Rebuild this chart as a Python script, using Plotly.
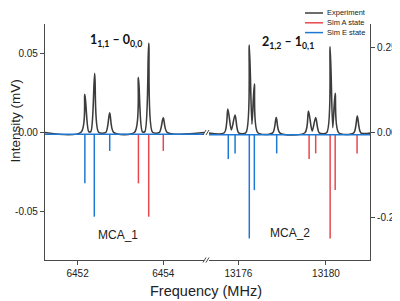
import plotly.graph_objects as go

# window 1: 1(1,1) - 0(0,0), MHz / mV (left axis)
exp1_freq = [6451.2, 6452.08, 6452.17, 6452.26, 6452.31, 6452.40, 6452.49,
             6452.66, 6452.75, 6452.84, 6453.33, 6453.42, 6453.51,
             6453.57, 6453.66, 6453.75, 6453.91, 6454.00, 6454.09, 6455.0]
exp1_int = [0, 0, 0.0240, 0.0004, 0.0004, 0.0373, 0,
            0, 0.0124, 0, 0, 0.0346, 0.0004,
            0.0004, 0.0563, 0, 0, 0.0092, 0, 0]
simE1_freq = [6452.17, 6452.39, 6452.75]
simE1_int = [-0.0323, -0.0534, -0.0118]
simA1_freq = [6453.42, 6453.66, 6454.00]
simA1_int = [-0.0323, -0.0534, -0.0118]

# window 2: 2(1,2) - 1(0,1), MHz / mV (right axis)
exp2_freq = [13174.6, 13175.36, 13175.52, 13175.68, 13175.85, 13176.01,
             13176.34, 13176.50, 13176.62, 13176.73, 13176.89,
             13177.57, 13177.73, 13177.89,
             13179.04, 13179.20, 13179.37, 13179.53, 13179.69,
             13180.03, 13180.19, 13180.31, 13180.42, 13180.58,
             13181.27, 13181.43, 13181.59, 13182.1]
exp2_int = [0, 0, 0.0697, 0.008, 0.052, 0,
            0, 0.258, 0.025, 0.143, 0,
            0, 0.045, 0,
            0, 0.064, 0.005, 0.045, 0,
            0, 0.253, 0.015, 0.116, 0,
            0, 0.049, 0, 0]
simE2_freq = [13175.54, 13175.85, 13176.50, 13176.73, 13177.75]
simE2_int = [-0.0774, -0.0607, -0.3106, -0.1685, -0.0607]
simA2_freq = [13179.23, 13179.53, 13180.19, 13180.42, 13181.42]
simA2_int = [-0.0774, -0.0607, -0.3106, -0.1685, -0.0607]

sim_base1 = -0.0013
sim_base2 = -0.006

x1_ticks = [6452, 6454]
x2_ticks = [13176, 13180]
y1_ticks = [-0.05, 0.0, 0.05]
y1_labels = ["-0.05", "0.00", "0.05"]
y2_ticks = [-0.25, 0.0, 0.25]
y2_labels = ["-0.25", "0.00", "0.25"]

BLACK = "#3c3c3c"
RED = "#e8474d"
BLUE = "#1f78d4"
AXIS = "#4a4a4a"
FONT = "Liberation Sans"

# plot box as seen on screen (px); the page body adds an 8px offset,
# so nothing can be drawn in the first 8px at the top/left
L, R, T, B = 45, 370, 24, 260
PAGE_OFF = 8


def px(x):
    return (x - L) / (R - L)


def py(y):
    return 1 - (y - T) / (B - T)


def sticks(freqs, ints, base):
    xs, ys = [], []
    for f, v in zip(freqs, ints):
        xs += [f, f, None]
        ys += [base, v, None]
    return xs, ys


fig = go.Figure()

for exp_f, exp_i, e_f, e_i, a_f, a_i, base, xa, ya in [
    (exp1_freq, exp1_int, simE1_freq, simE1_int, simA1_freq, simA1_int, sim_base1, "x", "y"),
    (exp2_freq, exp2_int, simE2_freq, simE2_int, simA2_freq, simA2_int, sim_base2, "x2", "y2"),
]:
    fig.add_trace(go.Scatter(x=exp_f, y=exp_i, mode="lines", xaxis=xa, yaxis=ya,
                             line=dict(color=BLACK, width=1.6, shape="spline", smoothing=0.8),
                             showlegend=False, hoverinfo="skip"))
    xs, ys = sticks(a_f, a_i, base)
    fig.add_trace(go.Scatter(x=xs, y=ys, mode="lines", xaxis=xa, yaxis=ya,
                             line=dict(color=RED, width=1.5), showlegend=False))
    xs, ys = sticks(e_f, e_i, base)
    fig.add_trace(go.Scatter(x=xs, y=ys, mode="lines", xaxis=xa, yaxis=ya,
                             line=dict(color=BLUE, width=1.5), showlegend=False))

shapes = [
    dict(type="line", xref="x domain", yref="y", x0=0, x1=1, y0=sim_base1, y1=sim_base1,
         line=dict(color=BLUE, width=1.5)),
    dict(type="line", xref="x2 domain", yref="y2", x0=0, x1=1, y0=sim_base2, y1=sim_base2,
         line=dict(color=BLUE, width=1.5)),
]
# axis break marks "//" on the baseline and on the bottom axis
for yb in (132.5, 260):
    for xb in (204.5, 207.5):
        shapes.append(dict(type="line", xref="paper", yref="paper",
                           x0=px(xb - 1.5), x1=px(xb + 1.5), y0=py(yb + 2.5), y1=py(yb - 2.5),
                           line=dict(color=AXIS, width=1)))


def label(text, x, y, size, xref="paper", yref="paper", family=FONT, **kw):
    return dict(text=text, x=x, y=y, xref=xref, yref=yref, showarrow=False,
                xanchor=kw.pop("xanchor", "center"), yanchor="middle",
                font=dict(family=family, size=size, color=kw.pop("color", "#222")), **kw)


annotations = [
    label("<b>1<sub>1,1</sub> – 0<sub>0,0</sub></b>", 6452.895, 0.0578, 12.5, "x", "y",
          family="Lato", color="#111"),
    label("<b>2<sub>1,2</sub> – 1<sub>0,1</sub></b>", 13178.27, 0.264, 12.5, "x2", "y2",
          family="Lato", color="#111"),
    label("MCA_1", 6452.95, -0.065, 12, "x", "y"),
    label("MCA_2", 13178.34, -0.296, 12, "x2", "y2"),
    label("Frequency (MHz)", px(206), py(291), 14.5),
    label("Intensity (mV)", px(14.5), py(121), 13.5, textangle=-90),
]
# hand-drawn legend (Plotly's legend rows are too tall at this size)
for i, (name, col) in enumerate([("Experiment", BLACK), ("Sim A state", RED), ("Sim E state", BLUE)]):
    yy = 13 + 9.8 * i
    shapes.append(dict(type="line", xref="paper", yref="paper", x0=px(305), x1=px(323),
                       y0=py(yy), y1=py(yy), line=dict(color=col, width=1.5)))
    annotations.append(label(name, px(325), py(yy), 7.5, xanchor="left"))

xstyle = dict(showline=True, linecolor=AXIS, linewidth=1.2, ticks="outside", ticklen=4,
              tickcolor=AXIS, showgrid=False, zeroline=False, automargin=False,
              tickfont=dict(family=FONT, size=10, color="#222"))
ystyle = dict(xstyle)

fig.update_layout(
    width=400, height=301,
    margin=dict(l=L - PAGE_OFF, r=400 - R + PAGE_OFF, t=T - PAGE_OFF, b=301 - B + PAGE_OFF,
                autoexpand=False),
    paper_bgcolor="white", plot_bgcolor="white",
    xaxis=dict(xstyle, domain=[0, px(204)], range=[6451.24, 6454.95], tickvals=x1_ticks,
               tickformat="d", anchor="y"),
    xaxis2=dict(xstyle, domain=[px(209), 1], range=[13174.66, 13182.01], tickvals=x2_ticks,
                tickformat="d", anchor="y2"),
    yaxis=dict(ystyle, range=[-0.0808, 0.0685], tickvals=y1_ticks, ticktext=y1_labels, anchor="x"),
    yaxis2=dict(ystyle, range=[-0.374, 0.3197], tickvals=y2_ticks, ticktext=y2_labels,
                anchor="x2", side="right"),
    shapes=shapes,
    annotations=annotations,
    showlegend=False,
)

fig.write_html("out.html")
